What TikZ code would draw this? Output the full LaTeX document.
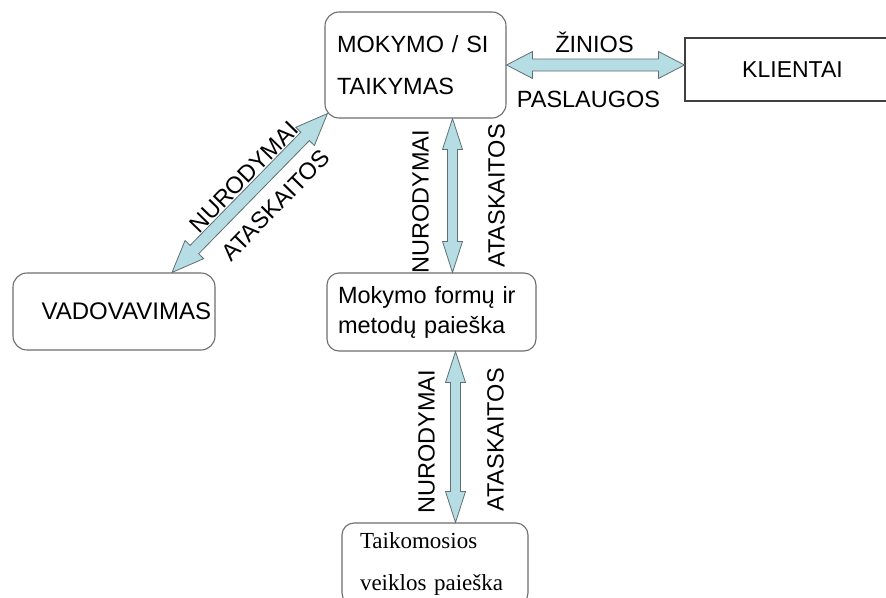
\documentclass[tikz,border=0pt]{standalone}
\usepackage{fontspec}
\setmainfont{Liberation Sans}
\newfontfamily\timesface{Liberation Serif}
\usetikzlibrary{calc}

\definecolor{arrowfill}{HTML}{B7DDE4}
\definecolor{arrowedge}{HTML}{5E7074}
\definecolor{boxedge}{HTML}{6E6E6E}

\tikzset{
  box/.style={draw=boxedge, line width=1.1pt, rounded corners=14pt, align=left, inner ysep=0pt},
  plainbox/.style={draw=black!75, line width=1.1pt, inner sep=0pt},
  lbl/.style={inner sep=0pt, font=\fontsize{23.5}{28}\selectfont},
  blockarrow/.style={fill=arrowfill, draw=arrowedge, line width=0.8pt, line join=miter},
}

% Double-headed block arrow between two named points:
% [options]{tail}{head}{shaft half-width}{head half-width}{head length}
\newcommand{\dblarrow}[6][]{%
  \path ($(#2)!#6!(#3)$) coordinate (#2-base) ($(#3)!#6!(#2)$) coordinate (#3-base);
  \draw[blockarrow,#1] (#2)
    -- ($(#2-base)!#5!90:(#3)$) -- ($(#2-base)!#4!90:(#3)$)
    -- ($(#3-base)!#4!-90:(#2)$) -- ($(#3-base)!#5!-90:(#2)$)
    -- (#3)
    -- ($(#3-base)!#5!90:(#2)$) -- ($(#3-base)!#4!90:(#2)$)
    -- ($(#2-base)!#4!-90:(#3)$) -- ($(#2-base)!#5!-90:(#3)$)
    -- cycle;
}

\begin{document}
\begin{tikzpicture}[x=1pt, y=-1pt]
  \useasboundingbox (0,0) rectangle (886,597);
  \clip (0,0) rectangle (886,597);
  \fill[white] (0,0) rectangle (886,597);

  % boxes
  \node[box, minimum width=181pt, minimum height=106pt, text width=157pt, inner xsep=12pt,
        font=\fontsize{23.5}{42}\selectfont] (mok) at (415.5,65) {MOKYMO / SI\\TAIKYMAS};
  \node[plainbox, minimum width=215pt, minimum height=63pt,
        font=\fontsize{23}{28}\selectfont] (klient) at (792.5,69.5) {KLIENTAI};
  \node[box, minimum width=202pt, minimum height=77pt, text width=194pt, inner xsep=4pt,
        align=right, font=\fontsize{24}{28}\selectfont] (vad) at (114,311.5) {VADOVAVIMAS};
  \node[box, rounded corners=12pt, minimum width=209pt, minimum height=78pt, text width=187pt, inner xsep=11pt,
        font=\fontsize{23.5}{30}\selectfont] (mokf) at (431.5,312) {Mokymo formų ir\\metodų paieška};
  \node[box, rounded corners=12pt, minimum width=186pt, minimum height=82pt, text width=150pt, inner xsep=17pt,
        font=\timesface\fontsize{23}{42}\selectfont] (taik) at (435,564) {Taikomosios\\veiklos paieška};

  % arrow end points on the box borders
  \coordinate (h1) at (mok.east);
  \coordinate (h2) at (klient.west |- mok.east);
  \coordinate (d1) at ([xshift=58pt]vad.north);
  \coordinate (d2) at ([shift={(3,-5)}]mok.south west);
  \coordinate (v1) at ([xshift=37pt]mok.south);
  \coordinate (v2) at (v1 |- mokf.north);
  \coordinate (w1) at ([xshift=24pt]mokf.south);
  \coordinate (w2) at (w1 |- taik.north);

  % block arrows
  \dblarrow{h1}{h2}{6pt}{13.5pt}{26pt}
  \dblarrow{d1}{d2}{6pt}{13pt}{32pt}
  \dblarrow{v1}{v2}{5pt}{10pt}{31pt}
  \dblarrow{w1}{w2}{5pt}{10pt}{31pt}

  % arrow labels
  \node[lbl] (zin) at ($(h1)!0.5!(h2)+(-1,-23)$) {ŽINIOS};
  \node[lbl] (pasl) at ($(h1)!0.5!(h2)+(-7,34)$) {PASLAUGOS};

  \node[lbl, rotate=45.7] (dnur) at ($(d1)!0.5!(d2)+(-6,-16)$) {NURODYMAI};
  \node[lbl, rotate=45.7] (data) at ($(d1)!0.5!(d2)+(26,12)$) {ATASKAITOS};

  \node[lbl, rotate=90] (vnur) at ($(v1)!0.5!(v2)+(-32,6.5)$) {NURODYMAI};
  \node[lbl, rotate=90] (vata) at ($(v1)!0.5!(v2)+(44,0.5)$) {ATASKAITOS};

  \node[lbl, rotate=90] (wnur) at ($(w1)!0.5!(w2)+(-29,5)$) {NURODYMAI};
  \node[lbl, rotate=90] (wata) at ($(w1)!0.5!(w2)+(40,3)$) {ATASKAITOS};
\end{tikzpicture}
\end{document}
